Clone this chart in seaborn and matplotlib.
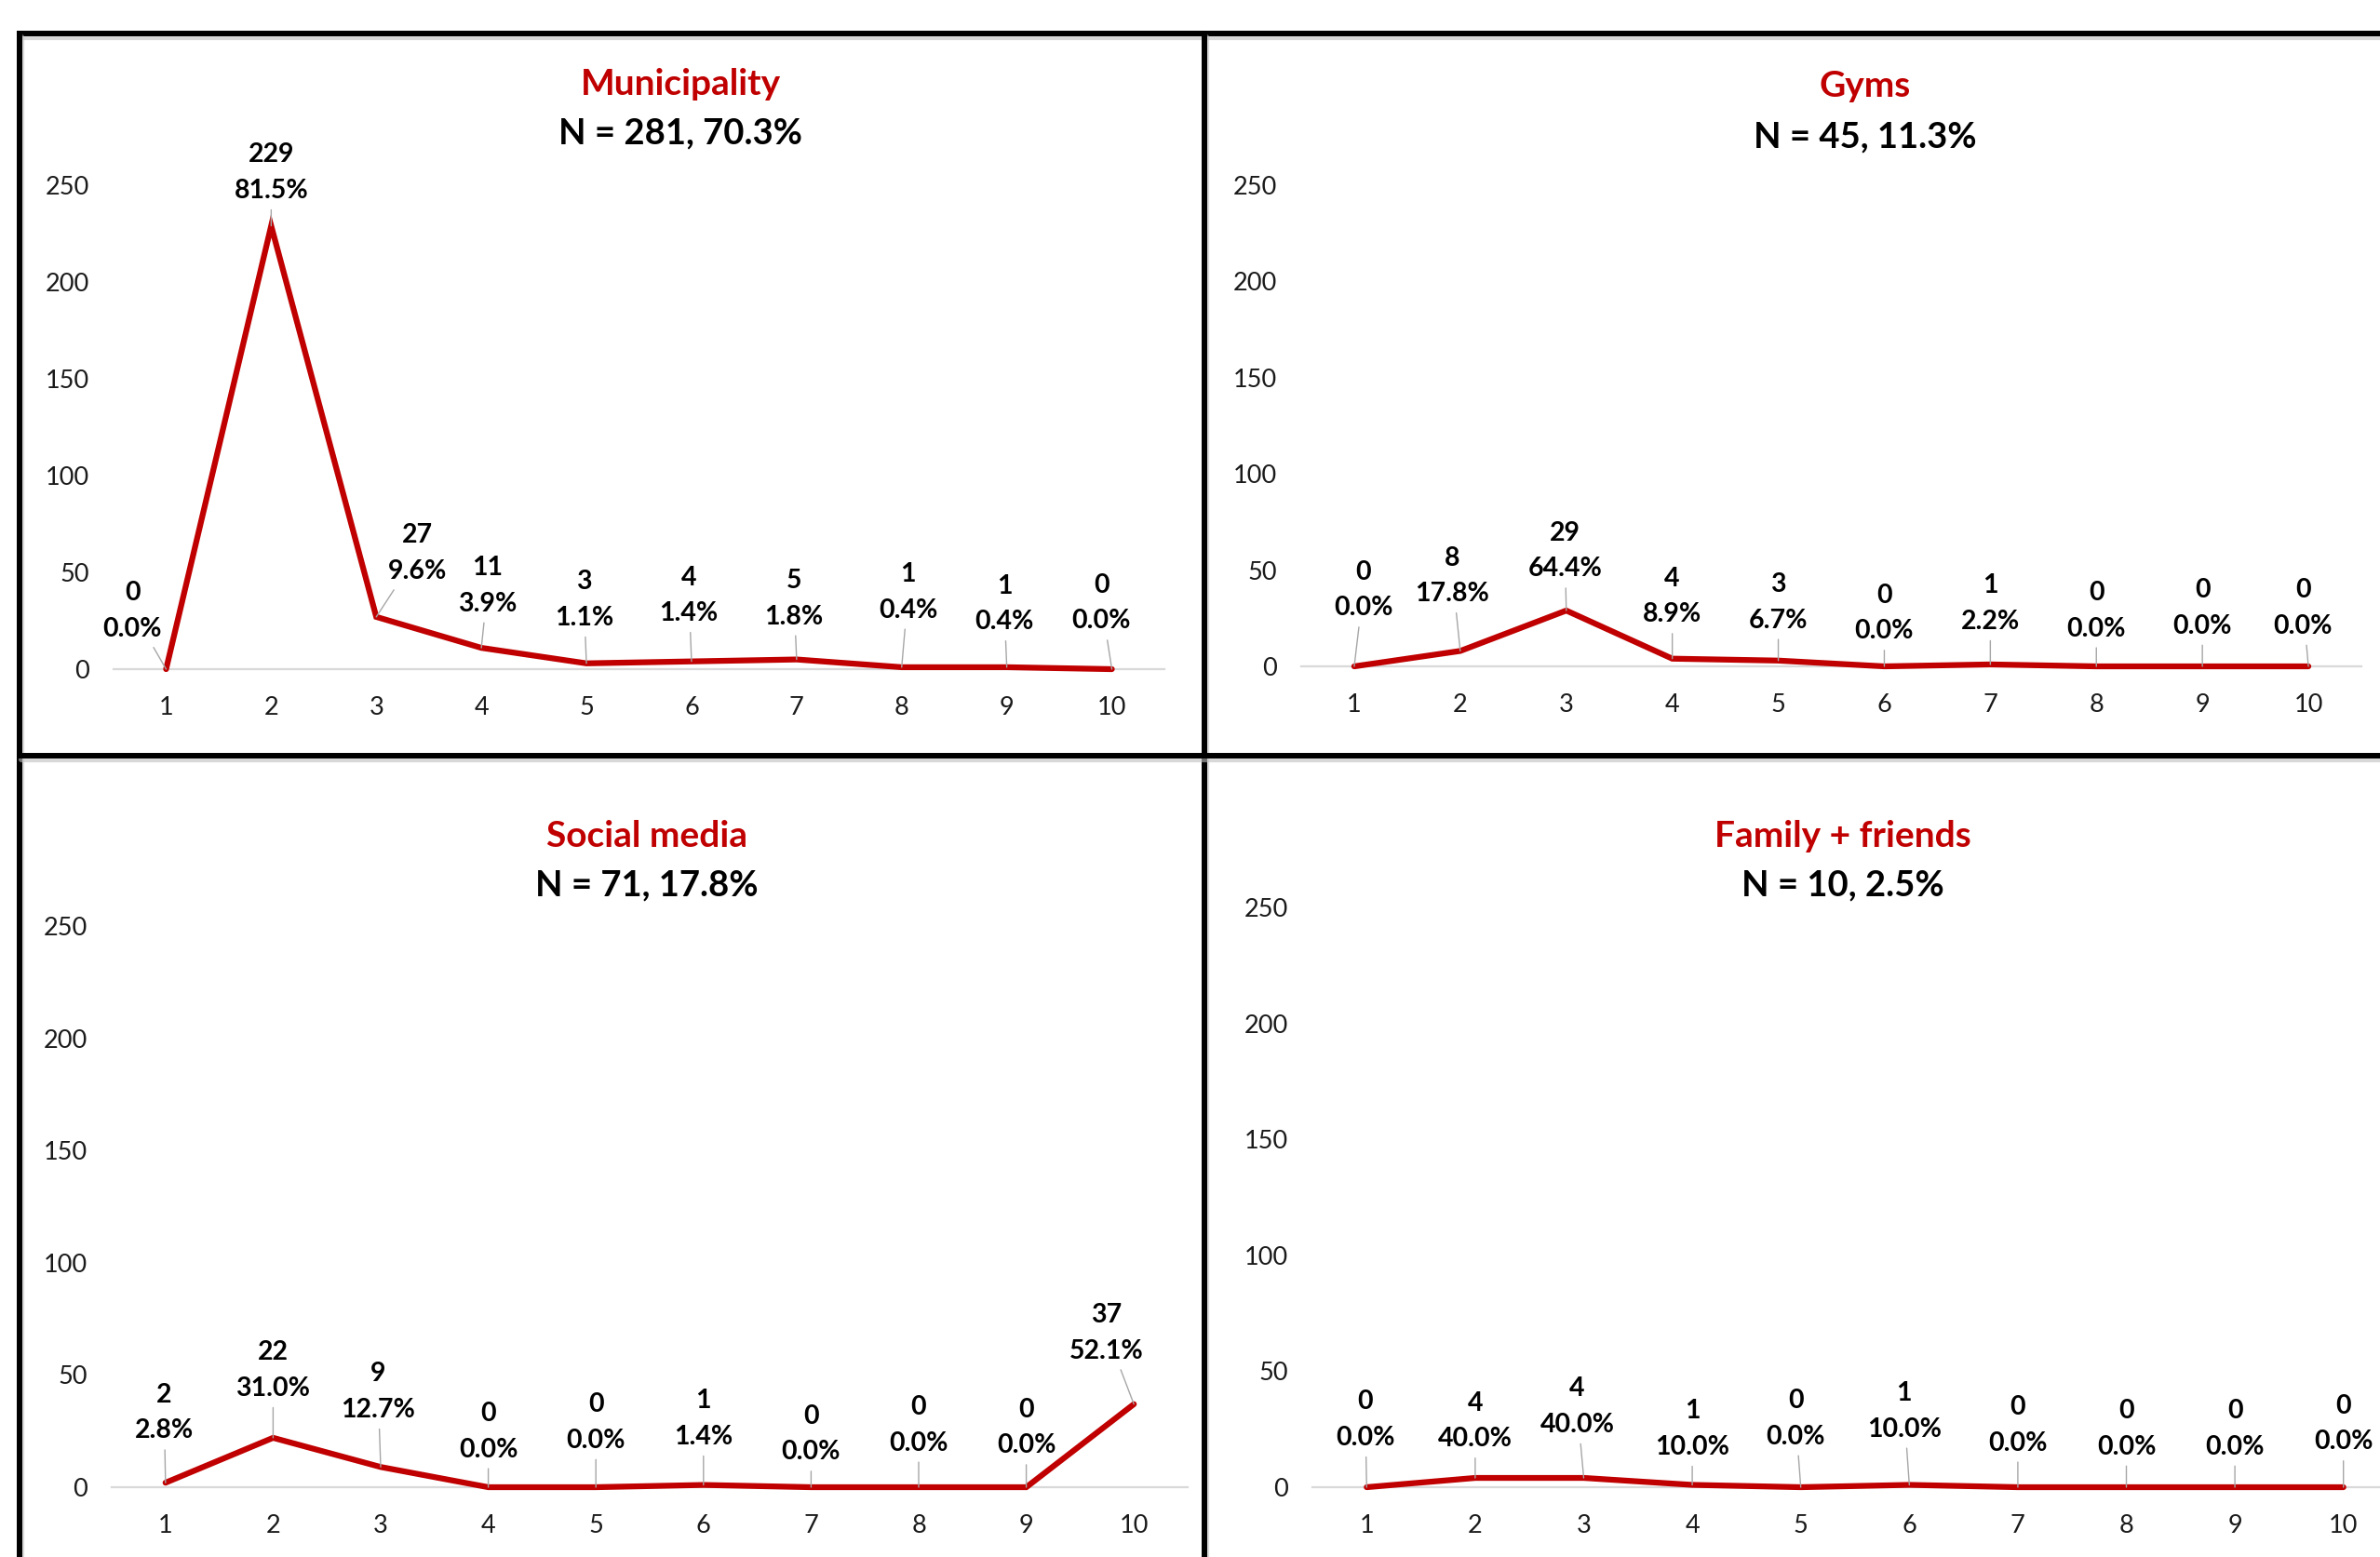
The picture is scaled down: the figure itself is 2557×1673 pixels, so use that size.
import matplotlib
matplotlib.use("Agg")
import matplotlib.pyplot as plt
from matplotlib.lines import Line2D
import seaborn as sns

# categories (x axis) and counts per source
categories = [1, 2, 3, 4, 5, 6, 7, 8, 9, 10]
municipality = [0, 229, 27, 11, 3, 4, 5, 1, 1, 0]
gyms = [0, 8, 29, 4, 3, 0, 1, 0, 0, 0]
social_media = [2, 22, 9, 0, 0, 1, 0, 0, 0, 37]
family_friends = [0, 4, 4, 1, 0, 1, 0, 0, 0, 0]

titles = ["Municipality", "Gyms", "Social media", "Family + friends"]
subtitles = ["N = 281, 70.3%", "N = 45, 11.3%", "N = 71, 17.8%", "N = 10, 2.5%"]
y_ticks = [0, 50, 100, 150, 200, 250]

RED = "#C00000"
FW = 2557
FH = 1673

sns.set_style("white")
plt.rcParams["font.family"] = ["Lato", "DejaVu Sans"]

fig = plt.figure(figsize=(FW / 100, FH / 100), dpi=100)

# panel layout in pixels: left, right, bottom(y0), top(y250) of axes; title centre
panels = [
    dict(data=municipality, box=(122, 1251, 719, 199), tx=731, ty=(91, 143),
         offs=[(-26, 45), (0, 41), (32, 49), (5, 48), (-2, 49), (-2, 51), (-2, 47), (5, 58), (-2, 49), (-8, 51)]),
    dict(data=gyms, box=(1398, 2537, 716, 199), tx=2004, ty=(93, 147),
         offs=[(7, 59), (-6, 58), (-1, 46), (0, 48), (0, 45), (0, 41), (0, 47), (0, 43), (0, 45), (-4, 45)]),
    dict(data=social_media, box=(120, 1276, 1598, 995), tx=695, ty=(898, 951),
         offs=[(-1, 54), (0, 52), (-2, 58), (0, 43), (0, 50), (0, 51), (0, 41), (0, 48), (0, 46), (-21, 55)]),
    dict(data=family_friends, box=(1410, 2576, 1598, 975), tx=1980, ty=(898, 951),
         offs=[(-1, 52), (0, 44), (-5, 55), (0, 43), (-4, 53), (-4, 57), (0, 48), (0, 45), (0, 45), (0, 49)]),
]

for i, p in enumerate(panels):
    l, r, b, t = p["box"]
    ax = fig.add_axes([l / FW, 1 - b / FH, (r - l) / FW, (b - t) / FH])
    ax.patch.set_alpha(0)
    vals = p["data"]
    total = sum(vals)

    sns.lineplot(x=categories, y=vals, ax=ax, color=RED, linewidth=4.5, zorder=3)
    for ln in ax.lines:
        ln.set_clip_on(False)
        ln.set_solid_joinstyle("miter")

    ax.set_xlim(0.5, 10.5)
    ax.set_ylim(0, 250)
    ax.set_xticks(categories)
    ax.set_yticks(y_ticks)
    ax.tick_params(axis="both", length=0, labelsize=19.5, labelcolor="#1a1a1a")
    ax.tick_params(axis="y", pad=19)
    ax.tick_params(axis="x", pad=21)
    for s in ["top", "right", "left"]:
        ax.spines[s].set_visible(False)
    ax.spines["bottom"].set_color("#D9D9D9")
    ax.spines["bottom"].set_linewidth(1.6)
    ax.set_xlabel("")
    ax.set_ylabel("")

    # data labels: count and share, with leader lines
    for x, v, (dx, dy) in zip(categories, vals, p["offs"]):
        pct = v / total * 100
        ax.annotate(f"{v}\n{pct:.1f}%", xy=(x, v), xytext=(dx, dy),
                    textcoords="offset points", ha="center", va="center",
                    fontsize=20.5, fontweight="bold", color="black", linespacing=1.6,
                    annotation_clip=False, zorder=4,
                    arrowprops=dict(arrowstyle="-", color="#A6A6A6", lw=1.0,
                                    shrinkA=3, shrinkB=0))

    fig.text(p["tx"] / FW, 1 - p["ty"][0] / FH, titles[i], ha="center", va="center",
             fontsize=28, fontweight="bold", color=RED)
    fig.text(p["tx"] / FW, 1 - p["ty"][1] / FH, subtitles[i], ha="center", va="center",
             fontsize=27.5, fontweight="bold", color="black")

# frame lines round the four panels (with a soft shadow)
frame = [
    ((21, 2557), (36, 36)),
    ((21, 21), (36, 1673)),
    ((1294, 1294), (36, 1673)),
    ((21, 2557), (812, 812)),
]
for xs, ys in frame:
    fx = [x / FW for x in xs]
    fy = [1 - y / FH for y in ys]
    fig.add_artist(Line2D([v + 2 / FW for v in fx], [v - 4 / FH for v in fy],
                          color="#BFBFBF", lw=4.5, alpha=0.6, transform=fig.transFigure))
    fig.add_artist(Line2D(fx, fy, color="black", lw=4.3, transform=fig.transFigure,
                          solid_capstyle="projecting"))

fig.savefig("out.png", dpi=100)
